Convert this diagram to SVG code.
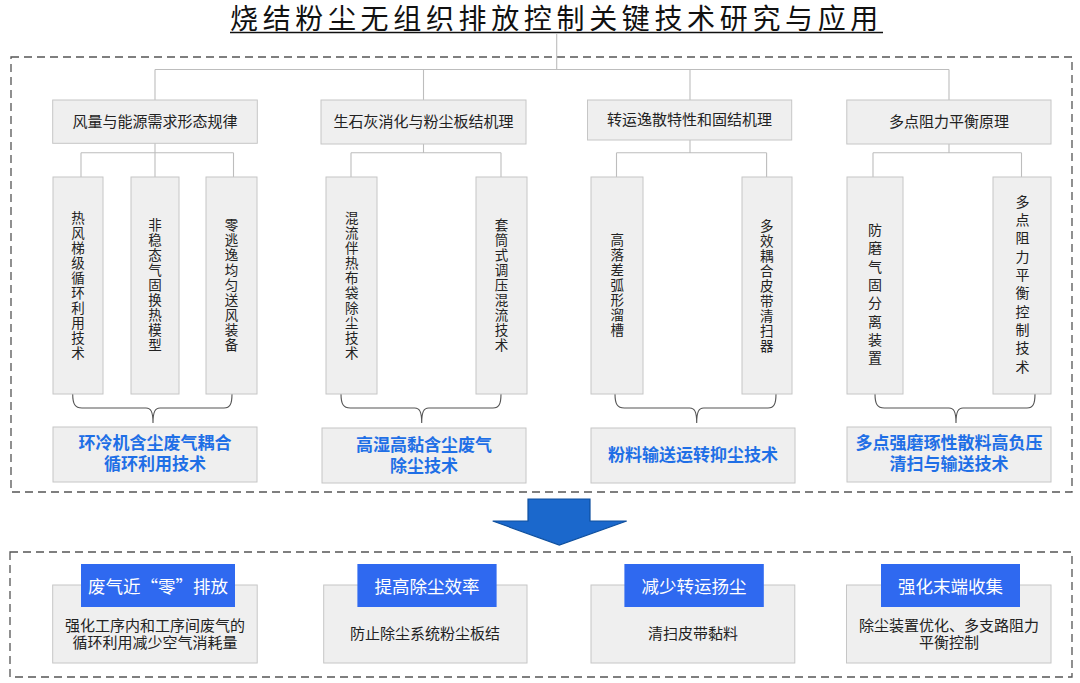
<svg xmlns="http://www.w3.org/2000/svg" width="1080" height="683" viewBox="0 0 1080 683">
<style>
text{font-family:"Liberation Sans","Noto Sans CJK SC",sans-serif;}
.frame{fill:none;stroke:#555;stroke-width:1.3;stroke-dasharray:8 5;}
.box{fill:#efefef;stroke:#c6c6c6;stroke-width:1;}
.lbl{fill:#2f69f0;}
.line{fill:none;stroke:#bdbdbd;stroke-width:1.1;}
.brace{fill:none;stroke:#555;stroke-width:1.1;}
.t1{font-size:15px;fill:#222;text-anchor:middle;dominant-baseline:central;}
.tv{font-family:"Noto Sans CJK SC",sans-serif;font-size:13.5px;letter-spacing:1.5px;fill:#222;text-anchor:middle;writing-mode:vertical-rl;}
.tvw{font-family:"Noto Sans CJK SC",sans-serif;font-size:14px;letter-spacing:4.3px;fill:#222;text-anchor:middle;writing-mode:vertical-rl;}
.tb{font-size:17px;font-weight:bold;fill:#1f6fe6;text-anchor:middle;dominant-baseline:central;}
.tw{font-family:"Noto Sans CJK SC",sans-serif;font-size:17.5px;fill:#fff;text-anchor:middle;dominant-baseline:central;}
.tbody{font-size:15px;fill:#222;text-anchor:middle;dominant-baseline:central;}
</style>
<rect width="1080" height="683" fill="#fff"/>
<g id="title">
<text x="230" y="29" style="font-size:28px;letter-spacing:4.65px;fill:#111;">烧结粉尘无组织排放控制关键技术研究与应用</text>
<line x1="230" y1="32.5" x2="883" y2="32.5" stroke="#111" stroke-width="1.5"/>
</g>
<rect class="frame" x="11" y="57" width="1061" height="435"/>
<rect class="frame" x="10" y="552" width="1062" height="125"/>
<g id="connectors">
<path class="line" d="M556.7,34V69.5M155,69.5H949M155,69.5V100M423.5,69.5V100M690,69.5V100M949,69.5V100"/>
<path class="line" d="M155,143V152.7M81,152.7H233.5M81,152.7V177M155,152.7V177M233.5,152.7V177"/>
<path class="line" d="M423.5,143V152.7M351,152.7H501M351,152.7V177M501,152.7V177"/>
<path class="line" d="M690,140V152.7M616.5,152.7H766.6M616.5,152.7V177M766.6,152.7V177"/>
<path class="line" d="M949,144V152.7M873,152.7H1021.5M873,152.7V177M1021.5,152.7V177"/>
<path class="brace" d="M72.7,394C72.7,404 75,408 82,408H146C151,408 153,412 153,423C153,412 155,408 160,408H224C230,408 232,404 232,394"/>
<path class="brace" d="M341,394C341,404 343.3,408 350.3,408H414.7C419.7,408 421.7,412 421.7,423C421.7,412 423.7,408 428.7,408H493C499,408 501,404 501,394"/>
<path class="brace" d="M615,394C615,404 617.3,408 624.3,408H689.7C694.7,408 696.7,412 696.7,423C696.7,412 698.7,408 703.7,408H768C774,408 776,404 776,394"/>
<path class="brace" d="M875,394C875,404 877.3,408 884.3,408H949C954,408 956,412 956,423C956,412 958,408 963,408H1027C1033,408 1035,404 1035,394"/>
</g>
<g id="arrow">
<polygon points="528,499 590,499 590,521 626.7,521 559.3,545 492.7,521 528,521" fill="#1b68cc" stroke="#0e4f9e" stroke-width="1.2"/>
</g>
<g id="p1"><rect class="box" x="52.7" y="100" width="204.6" height="43.3"/><text class="t1" x="155" y="121.7">风量与能源需求形态规律</text></g>
<g id="p2"><rect class="box" x="321" y="100" width="205" height="44"/><text class="t1" x="423.5" y="121.7">生石灰消化与粉尘板结机理</text></g>
<g id="p3"><rect class="box" x="587.5" y="100" width="204.2" height="40"/><text class="t1" x="689.5" y="119.5">转运逸散特性和固结机理</text></g>
<g id="p4"><rect class="box" x="846.8" y="100" width="204.2" height="44"/><text class="t1" x="949" y="121">多点阻力平衡原理</text></g>
<g id="vA"><rect class="box" x="53" y="177" width="50" height="217"/><text class="tv" x="78" y="286">热风梯级循环利用技术</text></g>
<g id="vB"><rect class="box" x="131" y="177" width="48" height="217"/><text class="tv" x="155" y="286">非稳态气固换热模型</text></g>
<g id="vC"><rect class="box" x="206" y="177" width="51" height="217"/><text class="tv" x="231.6" y="286">零逃逸均匀送风装备</text></g>
<g id="vD"><rect class="box" x="326" y="177" width="51" height="217"/><text class="tv" x="351.7" y="286">混流伴热布袋除尘技术</text></g>
<g id="vE"><rect class="box" x="476" y="177" width="51" height="217"/><text class="tv" x="501.5" y="286">套筒式调压混流技术</text></g>
<g id="vF"><rect class="box" x="591" y="177" width="52" height="217"/><text class="tv" x="617.3" y="286">高落差弧形溜槽</text></g>
<g id="vG"><rect class="box" x="742" y="177" width="50" height="217"/><text class="tv" x="766.7" y="286.5">多效耦合皮带清扫器</text></g>
<g id="vH"><rect class="box" x="847" y="177" width="56" height="217"/><text class="tvw" x="875" y="296">防磨气固分离装置</text></g>
<g id="vI"><rect class="box" x="993" y="177" width="58" height="217"/><text class="tvw" x="1022.5" y="286">多点阻力平衡控制技术</text></g>
<g id="tech1"><rect class="box" x="53" y="427" width="204" height="55"/><text class="tb"><tspan x="155" y="442.5">环冷机含尘废气耦合</tspan><tspan x="155" y="463.5">循环利用技术</tspan></text></g>
<g id="tech2"><rect class="box" x="322" y="428" width="204" height="55"/><text class="tb"><tspan x="424" y="444.5">高湿高黏含尘废气</tspan><tspan x="424" y="465.5">除尘技术</tspan></text></g>
<g id="tech3"><rect class="box" x="591" y="428" width="204" height="55"/><text class="tb" x="693" y="455">粉料输送运转抑尘技术</text></g>
<g id="tech4"><rect class="box" x="847" y="427" width="204" height="55"/><text class="tb"><tspan x="949" y="442.5">多点强磨琢性散料高负压</tspan><tspan x="949" y="463.5">清扫与输送技术</tspan></text></g>
<g id="goal1"><rect class="box" x="52.7" y="585" width="204.5" height="78"/><rect class="lbl" x="81" y="564" width="154" height="43"/><text class="tw" x="158" y="585.5">废气近“零”排放</text><text class="tbody"><tspan x="155" y="625">强化工序内和工序间废气的</tspan><tspan x="155" y="642">循环利用减少空气消耗量</tspan></text></g>
<g id="goal2"><rect class="box" x="323.7" y="585" width="203.3" height="78"/><rect class="lbl" x="357.4" y="564" width="139.2" height="43"/><text class="tw" x="427" y="585.5">提高除尘效率</text><text class="tbody" x="425" y="633.5">防止除尘系统粉尘板结</text></g>
<g id="goal3"><rect class="box" x="591" y="585" width="203.8" height="78"/><rect class="lbl" x="624.4" y="564" width="139.4" height="43"/><text class="tw" x="694" y="585.5">减少转运扬尘</text><text class="tbody" x="693" y="633.5">清扫皮带黏料</text></g>
<g id="goal4"><rect class="box" x="846.5" y="585" width="204.5" height="78"/><rect class="lbl" x="881" y="564" width="139" height="43"/><text class="tw" x="950.5" y="585.5">强化末端收集</text><text class="tbody"><tspan x="949" y="625">除尘装置优化、多支路阻力</tspan><tspan x="949" y="642">平衡控制</tspan></text></g>
</svg>
